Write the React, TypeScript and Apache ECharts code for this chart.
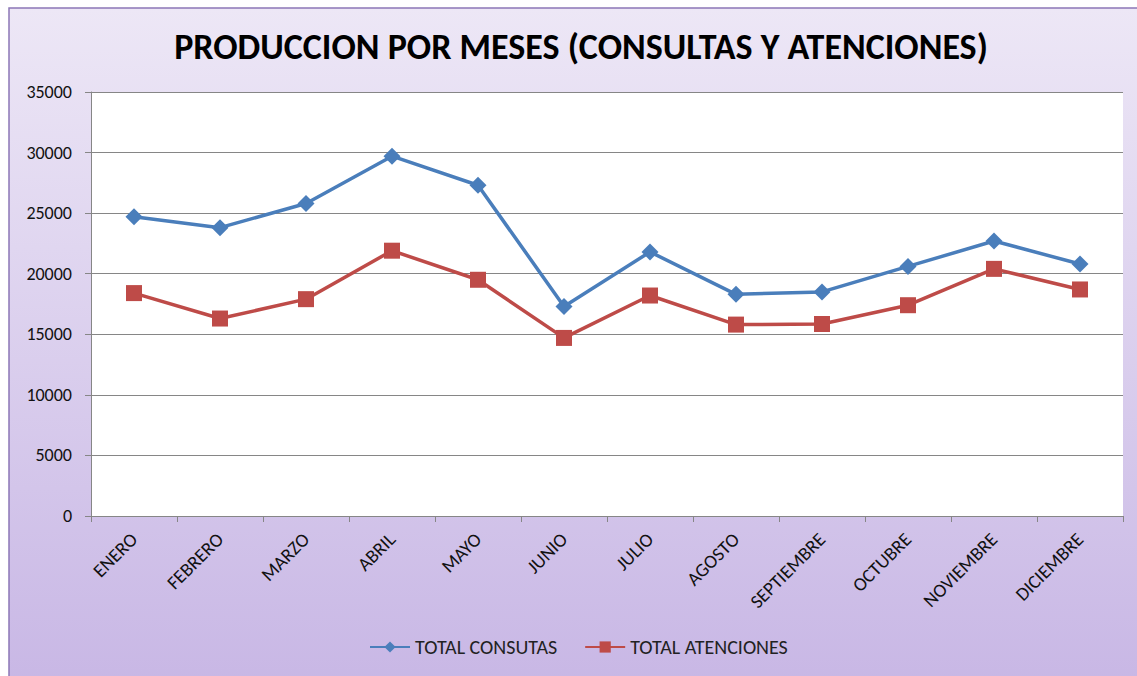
import React, { useEffect, useRef } from "react";
import * as echarts from "echarts";

const months = ["ENERO", "FEBRERO", "MARZO", "ABRIL", "MAYO", "JUNIO", "JULIO", "AGOSTO", "SEPTIEMBRE", "OCTUBRE", "NOVIEMBRE", "DICIEMBRE"];
const totalConsultas = [24700, 23800, 25800, 29700, 27300, 17300, 21800, 18300, 18500, 20600, 22700, 20800];
const totalAtenciones = [18400, 16300, 17900, 21900, 19500, 14700, 18200, 15800, 15850, 17400, 20400, 18700];
const seriesNames = ["TOTAL CONSUTAS", "TOTAL ATENCIONES"];
const titleText = "PRODUCCION POR MESES (CONSULTAS Y ATENCIONES)";

export default function App() {
  const ref = useRef<HTMLDivElement>(null);
  useEffect(() => {
    if (!ref.current) return;
    const chart = echarts.init(ref.current, null, { renderer: "svg" });
    const font = "Carlito, Calibri, 'Open Sans', sans-serif";
    chart.setOption({
      animation: false,
      backgroundColor: "#ffffff",
      graphic: [
        {
          type: "rect",
          z: -10,
          silent: true,
          shape: { x: 9, y: 8, width: 1200, height: 720 },
          style: {
            fill: new echarts.graphic.LinearGradient(0, 0, 0, 1, [
              { offset: 0, color: "#ede7f6" },
              { offset: 1, color: "#c6b4e4" },
            ]),
            stroke: "#8c77b6",
            lineWidth: 1.5,
          },
        },
      ],
      title: {
        text: titleText,
        left: 576,
        textAlign: "center",
        top: 24,
        textStyle: { fontFamily: font, fontSize: 36, fontWeight: "bold", color: "#000" },
      },
      grid: { left: 91, top: 92, right: 14, bottom: 160, backgroundColor: "#ffffff", show: true, borderWidth: 0 },
      legend: {
        left: 364,
        top: 632,
        itemGap: 27,
        itemWidth: 40,
        itemHeight: 14,
        textStyle: { fontFamily: font, fontSize: 20, color: "#222" },
        data: seriesNames,
      },
      xAxis: {
        type: "category",
        data: months,
        boundaryGap: true,
        axisLine: { lineStyle: { color: "#868686", width: 1 } },
        axisTick: { show: true, length: 6, lineStyle: { color: "#868686" } },
        axisLabel: { rotate: 45, fontFamily: font, fontSize: 19, color: "#111", margin: 20, interval: 0 },
      },
      yAxis: {
        type: "value",
        min: 0,
        max: 35000,
        interval: 5000,
        axisLine: { show: true, lineStyle: { color: "#868686", width: 1 } },
        axisTick: { show: true, length: 6, lineStyle: { color: "#868686" } },
        axisLabel: { fontFamily: font, fontSize: 18, color: "#111", margin: 19, formatter: (v: number) => String(v) },
        splitLine: { lineStyle: { color: "#868686", width: 1 } },
      },
      series: [
        {
          name: seriesNames[0],
          type: "line",
          data: totalConsultas,
          symbol: "diamond",
          symbolSize: 17,
          lineStyle: { color: "#4a7ebb", width: 3.5 },
          itemStyle: { color: "#4a7ebb" },
        },
        {
          name: seriesNames[1],
          type: "line",
          data: totalAtenciones,
          symbol: "rect",
          symbolSize: 16,
          lineStyle: { color: "#be4b48", width: 3.5 },
          itemStyle: { color: "#be4b48" },
        },
      ],
    });
    return () => chart.dispose();
  }, []);
  return <div ref={ref} style={{ position: "fixed", left: 0, top: 0, width: 1137, height: 676 }} />;
}
